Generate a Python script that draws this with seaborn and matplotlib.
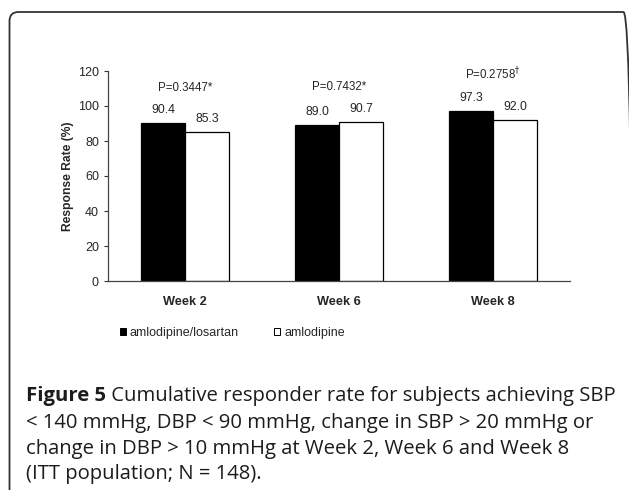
import pandas as pd
import seaborn as sns
import matplotlib.pyplot as plt
from matplotlib.patches import FancyBboxPatch, Patch
from matplotlib.transforms import IdentityTransform

weeks = ["Week 2", "Week 6", "Week 8"]
groups = ["amlodipine/losartan", "amlodipine"]
combo_rate = [90.4, 89.0, 97.3]
mono_rate = [85.3, 90.7, 92.0]
p_labels = ["P=0.3447*", "P=0.7432*", r"P=0.2758$^{\dagger}$"]
y_ticks = [0, 20, 40, 60, 80, 100, 120]

caption_bold = "Figure 5"
caption_lines = [
    " Cumulative responder rate for subjects achieving SBP",
    "< 140 mmHg, DBP < 90 mmHg, change in SBP > 20 mmHg or",
    "change in DBP > 10 mmHg at Week 2, Week 6 and Week 8",
    "(ITT population; N = 148).",
]


def main():
    df = pd.DataFrame({
        "week": weeks * 2,
        "group": [groups[0]] * 3 + [groups[1]] * 3,
        "rate": combo_rate + mono_rate,
    })

    sns.set_style("white")
    plt.rcParams["font.family"] = ["Liberation Sans", "DejaVu Sans"]

    fig = plt.figure(figsize=(6.29, 4.90), dpi=100)
    ax = fig.add_axes([108 / 629, 1 - 281 / 490, 462 / 629, 210 / 490])

    sns.barplot(
        data=df, x="week", y="rate", hue="group",
        palette=["black", "white"], edgecolor="black", linewidth=0.9,
        width=0.57, saturation=1, legend=False, ax=ax,
    )

    ax.set_ylim(0, 120)
    ax.set_xlim(-0.5, 2.5)
    ax.set_yticks(y_ticks)
    ax.set_yticklabels([str(t) for t in y_ticks], fontsize=9)
    ax.set_xticks([-0.5, 0.5, 1.5, 2.5])
    ax.set_xticklabels([])
    ax.set_xticks(range(len(weeks)), minor=True)
    ax.set_xticklabels(weeks, minor=True, fontsize=9.2, fontweight="bold")
    ax.tick_params(axis="x", which="minor", length=0, pad=11)
    ax.tick_params(axis="x", which="major", length=3.5, width=0.8, direction="out", color="#333333")
    ax.tick_params(axis="y", length=3, width=0.8, direction="out", color="#333333", pad=3.5, left=True)
    ax.set_xlabel("")
    ax.set_ylabel("Response Rate (%)", fontsize=8.7, fontweight="bold", labelpad=3)
    sns.despine(ax=ax)
    for s in ["left", "bottom"]:
        ax.spines[s].set_color("#444444")
        ax.spines[s].set_linewidth(0.9)

    for cont in ax.containers:
        for bar in cont:
            h = bar.get_height()
            ax.annotate(f"{h:.1f}", (bar.get_x() + bar.get_width() / 2, h),
                        xytext=(0, 5), textcoords="offset points",
                        ha="center", va="bottom", fontsize=8.8)

    for i, lab in enumerate(p_labels):
        top = max(combo_rate[i], mono_rate[i])
        ax.text(i, top + 16.5, lab, ha="center", va="bottom", fontsize=8.3)

    handles = [Patch(facecolor="black", edgecolor="black", linewidth=0.7),
               Patch(facecolor="white", edgecolor="black", linewidth=0.7)]
    fig.legend(handles, groups, loc="center left", bbox_to_anchor=(120 / 629, 1 - 333 / 490),
               ncol=2, frameon=False, fontsize=9, handlelength=0.5, handleheight=0.5,
               handletextpad=0.3, columnspacing=2.8, borderaxespad=0, borderpad=0)

    # caption block
    cap_font = ["Open Sans", "DejaVu Sans"]
    cap_color = "#1e1b1c"
    cap_size = 14.6
    x0 = 26 / 629
    line_y = [396, 423, 449, 474]
    t = fig.text(x0, 1 - line_y[0] / 490, caption_bold, fontsize=cap_size, fontweight="bold",
                 family=cap_font, color=cap_color, va="center")
    fig.canvas.draw()
    bb = t.get_window_extent(fig.canvas.get_renderer())
    fig.text(bb.x1 / 629, 1 - line_y[0] / 490, caption_lines[0], fontsize=cap_size,
             family=cap_font, color=cap_color, va="center")
    for yy, line in zip(line_y[1:], caption_lines[1:]):
        fig.text(x0, 1 - yy / 490, line, fontsize=cap_size, family=cap_font,
                 color=cap_color, va="center")

    # rounded frame, open at the right and bottom
    frame = FancyBboxPatch((9.5, -60), 623, 490 - 12 + 60,
                           boxstyle="round,pad=0,rounding_size=9",
                           facecolor="none", edgecolor="#333333", linewidth=1.3,
                           transform=IdentityTransform())
    fig.add_artist(frame)

    fig.savefig("out.png", dpi=100)


main()
